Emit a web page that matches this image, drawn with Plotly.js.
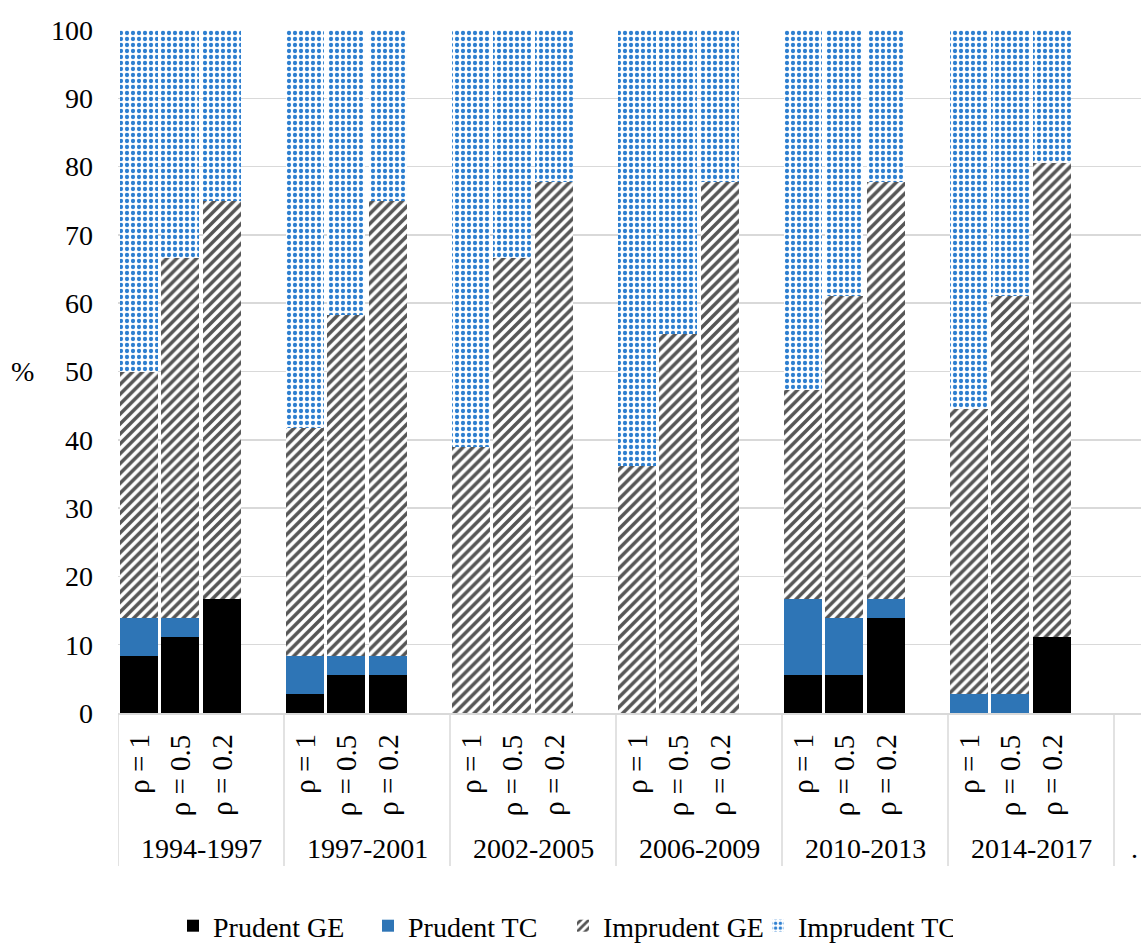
<!DOCTYPE html>
<html>
<head>
<meta charset="utf-8">
<script src="https://cdn.plot.ly/plotly-3.0.1.min.js"></script>
<style>html,body{margin:0;padding:0;background:#fff;}#chart{width:1141px;height:952px;}</style>
</head>
<body>
<div id="chart"></div>
<script>
const periods = ['1994-1997', '1997-2001', '2002-2005', '2006-2009', '2010-2013', '2014-2017'];
const extraCategory = '.';
const rhoLabels = ['ρ = 1', 'ρ = 0.5', 'ρ = 0.2'];
const yTicks = [0, 10, 20, 30, 40, 50, 60, 70, 80, 90, 100];

const prudentGE   = [8.33, 11.11, 16.67,  2.78, 5.56, 5.56,  0, 0, 0,  0, 0, 0,  5.56, 5.56, 13.89,  0, 0, 11.11];
const prudentTC   = [5.56, 2.78, 0,  5.56, 2.78, 2.78,  0, 0, 0,  0, 0, 0,  11.11, 8.33, 2.78,  2.78, 2.78, 0];
const imprudentGE = [36.11, 52.78, 58.33,  33.33, 50.00, 66.67,  38.89, 66.67, 77.78,  36.11, 55.56, 77.78,  30.56, 47.22, 61.11,  41.67, 58.33, 69.44];
const imprudentTC = [50.00, 33.33, 25.00,  58.33, 41.67, 25.00,  61.11, 33.33, 22.22,  63.89, 44.44, 22.22,  52.78, 38.89, 22.22,  55.56, 38.89, 19.44];

const FONT = 'Liberation Serif, Times New Roman, serif';
const slotsPerGroup = rhoLabels.length + 1;   // one empty slot after each group
const xs = [];
const xLabels = [];
periods.forEach((p, g) => rhoLabels.forEach((r, j) => { xs.push(g * slotsPerGroup + j); xLabels.push(r); }));

const barWidth = 0.915;
function bar(name, y, marker) {
  return { type: 'bar', name: name, x: xs, y: y, width: barWidth, marker: marker, hoverinfo: 'name+y' };
}
const traces = [
  bar('Prudent GE', prudentGE, { color: '#000000', line: { width: 0 } }),
  bar('Prudent TC', prudentTC, { color: '#2e75b6', line: { width: 0 } }),
  bar('Imprudent GE', imprudentGE, { color: '#ffffff', line: { width: 0 },
      pattern: { shape: '/', fgcolor: '#555555', bgcolor: '#ffffff', size: 7, solidity: 0.5 } }),
  bar('Imprudent TC', imprudentTC, { color: '#ffffff', line: { width: 0 },
      pattern: { shape: '.', fgcolor: '#2e7fd0', bgcolor: '#ffffff', size: 6, solidity: 0.4 } })
];

const plotH = 683;
const plotW = 1141 - 118;
const annotations = [];
xs.forEach((x, i) => annotations.push({
  x: x, xref: 'x', y: -19 / plotH, yref: 'paper', text: xLabels[i], showarrow: false,
  textangle: -90, xanchor: 'center', yanchor: 'top', font: { family: FONT, size: 29, color: '#000' }
}));
const allGroups = periods.concat([extraCategory]);
allGroups.forEach((p, g) => {
  const center = (g < periods.length) ? g * slotsPerGroup + (slotsPerGroup - 1) / 2 : g * slotsPerGroup;
  annotations.push({
    x: center, xref: 'x', y: -135 / plotH, yref: 'paper', text: p, showarrow: false,
    xanchor: 'center', yanchor: 'middle', font: { family: FONT, size: 28, color: '#000' }
  });
});
annotations.push({
  x: (22 - 118) / plotW, xref: 'paper', y: 50, yref: 'y', text: '%', showarrow: false,
  xanchor: 'center', yanchor: 'middle', font: { family: FONT, size: 28, color: '#000' }
});

const shapes = [];
for (let g = 0; g <= periods.length; g++) {
  shapes.push({ type: 'line', xref: 'x', yref: 'paper', x0: g * slotsPerGroup - 0.5, x1: g * slotsPerGroup - 0.5,
    y0: 0, y1: -153 / plotH, line: { color: '#d9d9d9', width: 1.5 } });
}

const leafPx = 41.5;
const layout = {
  width: 1141, height: 952,
  margin: { l: 118, r: 0, t: 30, b: 239, autoexpand: false },
  paper_bgcolor: '#fff', plot_bgcolor: '#fff',
  barmode: 'stack',
  showlegend: true,
  legend: {
    orientation: 'h', traceorder: 'normal', xref: 'paper', yref: 'paper',
    x: (563 - 118) / plotW, xanchor: 'center', y: -(951 - 713) / plotH, yanchor: 'bottom',
    font: { family: FONT, size: 28, color: '#000' }, itemwidth: 30,
    entrywidth: 150, entrywidthmode: 'pixels'
  },
  xaxis: {
    range: [-0.5, -0.5 + plotW / leafPx], showticklabels: false, showgrid: false, zeroline: false,
    showline: true, linecolor: '#d9d9d9', linewidth: 1.5, ticks: '', fixedrange: true
  },
  yaxis: {
    range: [0, 100], tickvals: yTicks, showgrid: true, gridcolor: '#d9d9d9', gridwidth: 1.5,
    zeroline: false, showline: false, ticks: '', ticklabelstandoff: 24,
    tickfont: { family: FONT, size: 28, color: '#000' }, fixedrange: true
  },
  annotations: annotations,
  shapes: shapes
};

Plotly.newPlot('chart', traces, layout, { displayModeBar: false, staticPlot: true });
</script>
</body>
</html>
